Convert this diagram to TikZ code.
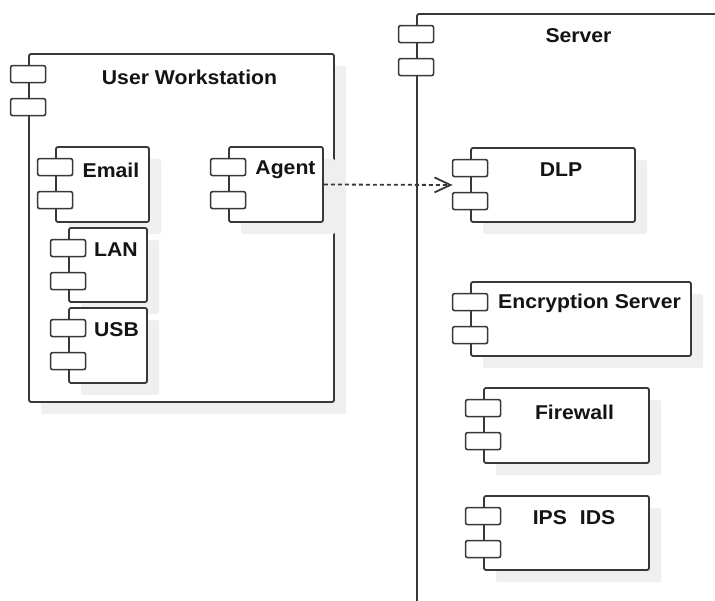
\documentclass[tikz,border=0pt]{standalone}
\usepackage{fontspec}
\newfontfamily\lbfont{Liberation Sans}[FakeStretch=1.06]
\usetikzlibrary{fit,shadows,arrows.meta}
\definecolor{lc}{HTML}{383838}
\definecolor{shc}{HTML}{EFEFEF}
\tikzset{
  compbox/.style={draw=lc, fill=white, line width=1.8pt, rounded corners=2pt, inner sep=0pt,
    drop shadow={shadow xshift=12pt, shadow yshift=-12pt, fill=shc, opacity=1}},
  framebox/.style={draw=lc, fill=white, line width=1.8pt, rounded corners=2pt, inner sep=0pt},
  tabbox/.style={draw=lc, fill=white, line width=1.6pt, rounded corners=2pt, inner sep=0pt,
    minimum width=35pt, minimum height=17pt},
  lbl/.style={font=\lbfont\bfseries\fontsize{20}{24}\selectfont, text=black!92, inner sep=0pt},
  dep/.style={draw=lc, line width=1.8pt, dash pattern=on 4pt off 3pt,
    -{Straight Barb[length=16pt,width=15pt,line width=1.8pt]}}
}
\newcommand\umlcomp[6][compbox]{%
  \node[#1, fit={(#3,#4) (#5,#6)}] (#2) {};
  \node[tabbox] (#2-t1) at ([yshift=-21pt]#2.north west) {};
  \node[tabbox] (#2-t2) at ([yshift=-54pt]#2.north west) {};
}
\begin{document}
\begin{tikzpicture}[x=1pt,y=-1pt]
\useasboundingbox (0,0) rectangle (715,601);
\clip (0,0) rectangle (715,601);
\fill[white] (0,0) rectangle (715,601);
% Server
\umlcomp[framebox]{server}{417}{14}{760}{640}
\node[lbl] (server-l) at (578.5,36) {Server};
% User workstation
\umlcomp{uw}{29}{54}{334}{402}
\node[lbl] (uw-l) at (189.5,77) {User Workstation};
% inner components
\umlcomp{email}{56}{147}{149}{222}
\node[lbl] (email-l) at (111,170) {Email};
\umlcomp{lan}{69}{228}{147}{302}
\node[lbl] (lan-l) at (116,250) {LAN};
\umlcomp{usb}{69}{308}{147}{383}
\node[lbl] (usb-l) at (116.5,330) {USB};
\umlcomp{agent}{229}{147}{323}{222}
\node[lbl] (agent-l) at (285.5,170) {Agent};
% server components
\umlcomp{dlp}{471}{148}{635}{222}
\node[lbl] (dlp-l) at (561,170) {DLP};
\umlcomp{enc}{471}{282}{691}{356}
\node[lbl] (enc-l) at (589.5,303) {Encryption Server};
\umlcomp{fw}{484}{388}{649}{463}
\node[lbl] (fw-l) at (574.5,412) {Firewall};
\umlcomp{ips}{484}{496}{649}{570}
\node[lbl] (ips-l) at (574,518) {IPS\hspace{13pt}IDS};
% dependency
\draw[dep] (agent.east) -- ([xshift=-17.5pt]dlp.west);
\end{tikzpicture}
\end{document}
